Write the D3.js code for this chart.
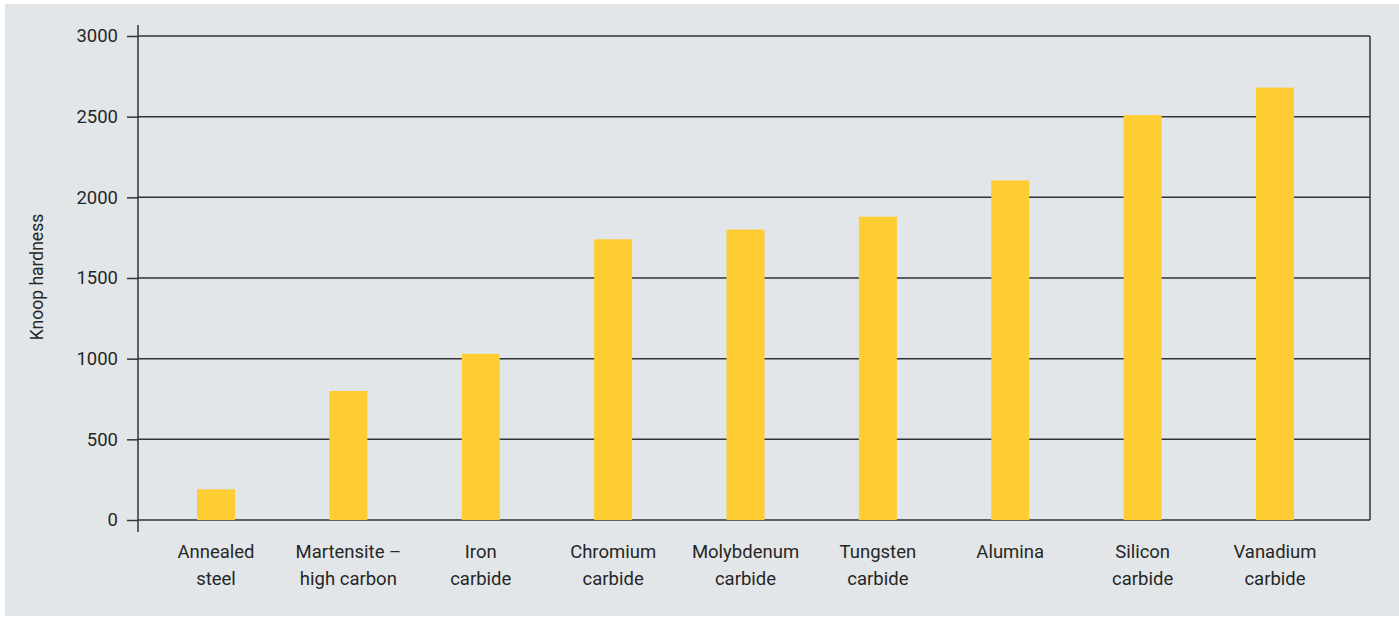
<!DOCTYPE html>
<html><head><meta charset="utf-8">
<script src="https://cdn.jsdelivr.net/npm/d3@7"></script>
<style>
html,body{margin:0;padding:0;background:#fff;}
svg text{font-family:Roboto,"Liberation Sans",sans-serif;fill:#262626;}
</style></head>
<body><svg id="c" width="1399" height="617"></svg>
<script>
const categories = ["Annealed\nsteel","Martensite –\nhigh carbon","Iron\ncarbide","Chromium\ncarbide","Molybdenum\ncarbide","Tungsten\ncarbide","Alumina","Silicon\ncarbide","Vanadium\ncarbide"];
const hardness = [190, 800, 1030, 1740, 1800, 1880, 2105, 2510, 2680];
const yTicks = [0, 500, 1000, 1500, 2000, 2500, 3000];
const yTitle = "Knoop hardness";

const svg = d3.select("#c");
svg.append("rect").attr("x",5).attr("y",4).attr("width",1394).attr("height",612).attr("fill","#e3e6e9");

const plotL = 138, plotR = 1370, plotT = 36, plotB = 520;
const y = d3.scaleLinear().domain([0,3000]).range([plotB, plotT]);
const x = d3.scalePoint().domain(categories).range([216, 1275]);
const barW = 38;

// gridlines
svg.append("g").selectAll("line").data(yTicks).join("line")
  .attr("x1", plotL).attr("x2", plotR)
  .attr("y1", d=>y(d)).attr("y2", d=>y(d))
  .attr("stroke","#333").attr("stroke-width",1.5);

// right border
svg.append("line").attr("x1",plotR).attr("x2",plotR).attr("y1",y(3000)).attr("y2",y(0))
  .attr("stroke","#333").attr("stroke-width",1.5);

// bars
svg.append("g").selectAll("rect").data(categories).join("rect")
  .attr("x", d=>x(d)-barW/2).attr("width", barW)
  .attr("y", (d,i)=>y(hardness[i])).attr("height",(d,i)=>y(0)-y(hardness[i]))
  .attr("fill","#fecc33");

// y axis
const ax = svg.append("g").attr("transform",`translate(${plotL},0)`)
  .call(d3.axisLeft(y).tickValues(yTicks).tickSize(11).tickPadding(9).tickFormat(d3.format("d")));
ax.select(".domain").remove();
ax.selectAll(".tick line").attr("stroke","#333").attr("stroke-width",1.5);
ax.selectAll(".tick text").attr("font-size",18.5).attr("fill","#262626").attr("font-family",null);
svg.append("line").attr("x1",plotL).attr("x2",plotL).attr("y1",25).attr("y2",532)
  .attr("stroke","#333").attr("stroke-width",1.5);

// x labels
const xl = svg.append("g").selectAll("text").data(categories).join("text")
  .attr("text-anchor","middle").attr("font-size",18.5)
  .attr("transform", d=>`translate(${x(d)},558)`);
xl.each(function(d){
  const t = d3.select(this);
  d.split("\n").forEach((s,i)=>{
    t.append("tspan").attr("x",0).attr("y", i*27).text(s);
  });
});

// y title
svg.append("text").attr("transform","translate(43,277) rotate(-90)")
  .attr("text-anchor","middle").attr("font-size",17.5).text(yTitle);
</script></body></html>
